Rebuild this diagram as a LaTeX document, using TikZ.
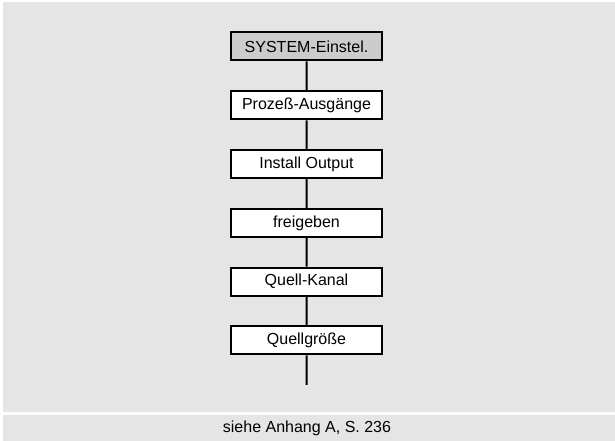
\documentclass[tikz,border=0pt]{standalone}
\usepackage{fontspec}
\setmainfont{Liberation Sans}
\definecolor{panelgray}{gray}{0.9}
\definecolor{boxgray}{gray}{0.8}
\tikzset{
  menubox/.style={draw, line width=1.5pt, fill=white, minimum width=113pt,
    minimum height=21pt, inner sep=0pt, font=\fontsize{12}{14}\selectfont},
  topbox/.style={menubox, fill=boxgray}
}
\begin{document}
\begin{tikzpicture}[x=0.75pt, y=-0.75pt, line width=1.5pt,
  level distance=44.1pt, edge from parent/.style={draw, line width=1.5pt}]
\useasboundingbox (0,0) rectangle (615,441);
% background panels
\fill[panelgray] (3,2) rectangle (615,412);
\fill[panelgray] (3,415) rectangle (615,441);
% the menu path, one level per child
\node[topbox](sys) at (306.5,46.5) {SYSTEM-Einstel.}
    child{
         node[menubox](proz){Prozeß-Ausgänge}
         child{
              node[menubox](inst){Install Output}
              child{
                   node[menubox](frei){freigeben}
                   child{
                        node[menubox](kanal){Quell-Kanal}
                        child{
                             node[menubox](groesse){Quellgröße}
                             }
                        }
                   }
              }
         };
\coordinate (ende) at (306.5,385);
\draw (groesse) -- (ende);
% footer
\node[font=\fontsize{12}{14}\selectfont](fuss) at (307,428) {siehe Anhang A, S. 236};
\end{tikzpicture}
\end{document}
